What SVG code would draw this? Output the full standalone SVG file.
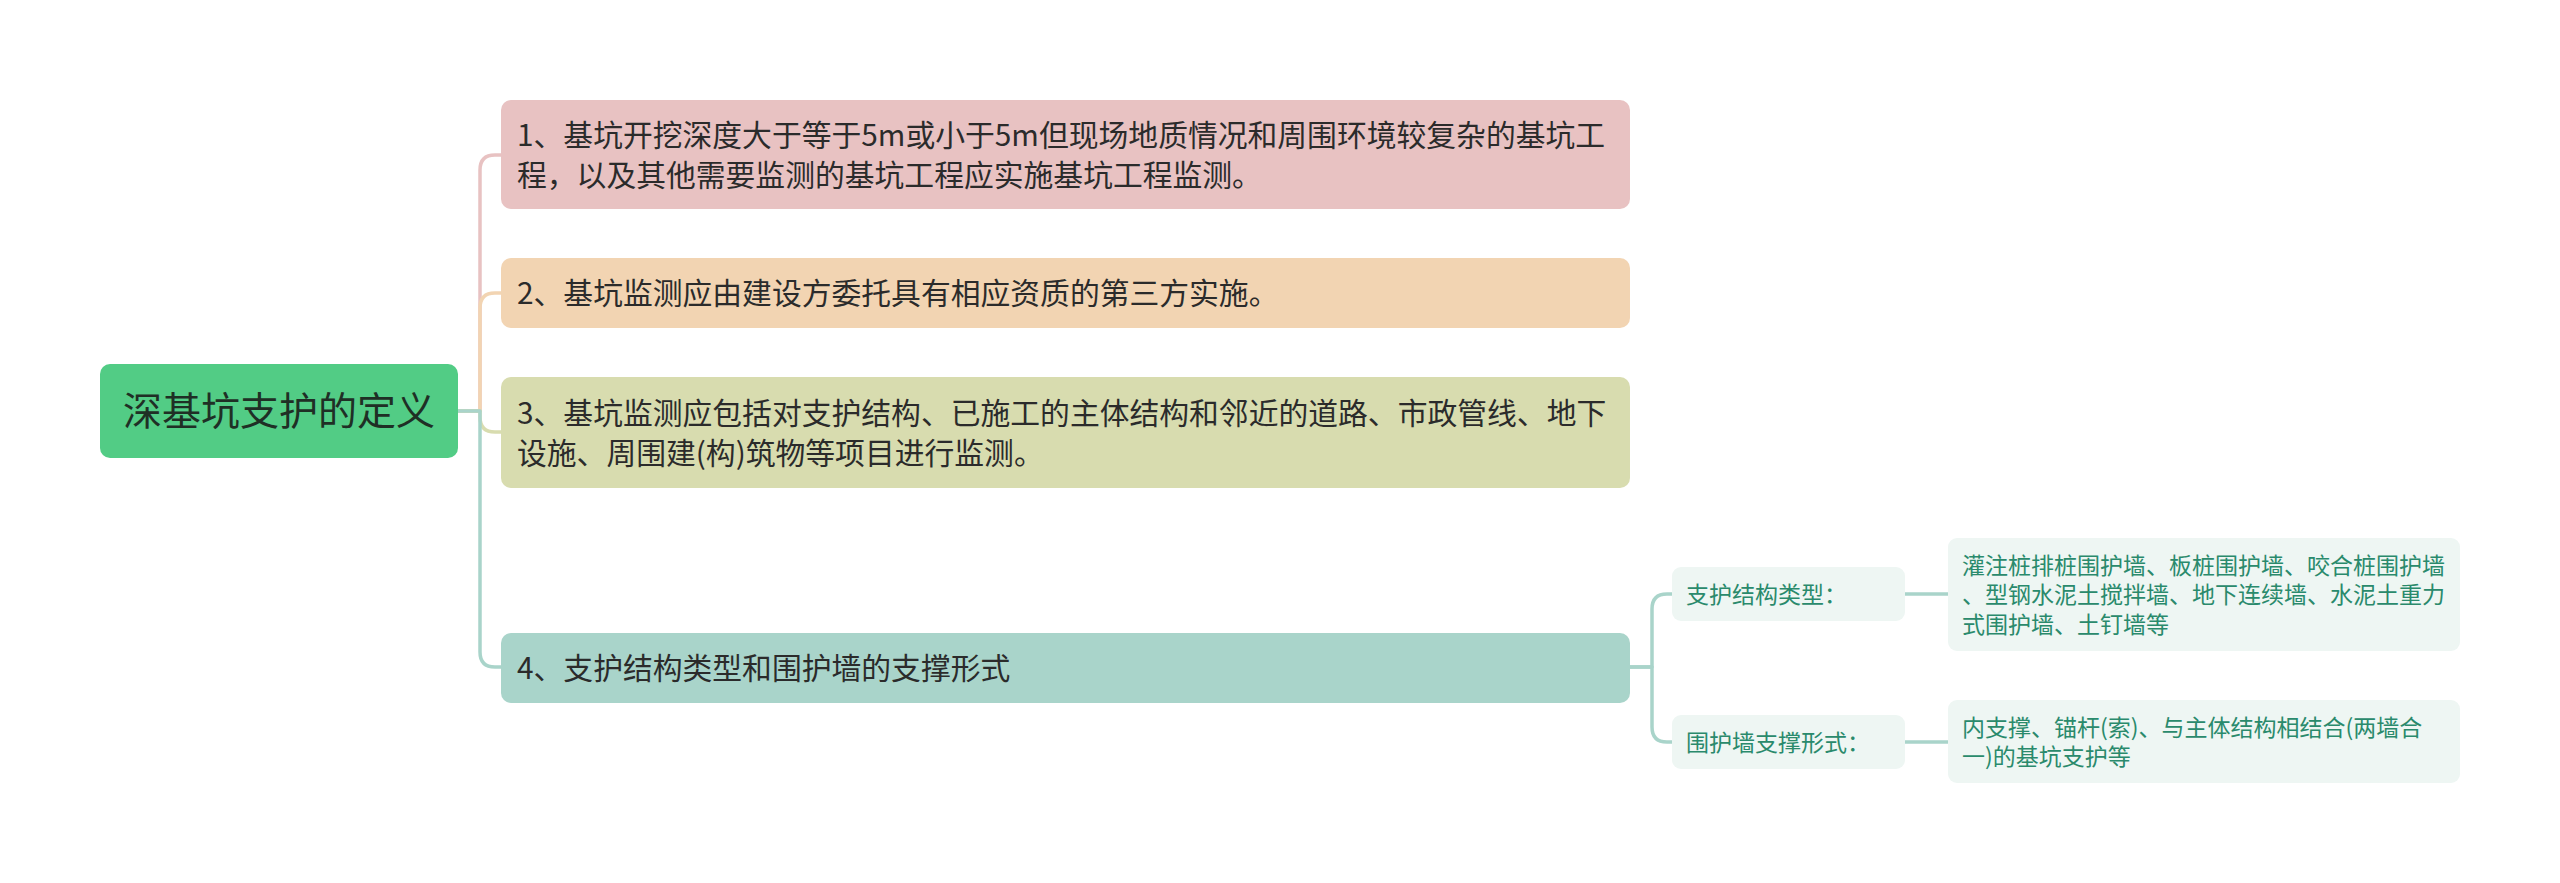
<svg xmlns="http://www.w3.org/2000/svg" width="2560" height="883" viewBox="0 0 2560 883">
<style>
.t{font-family:"Noto Sans CJK SC","Noto Sans",sans-serif;}
.root{font-size:39px;fill:#1f2f25;}
.main{font-size:29.8px;fill:#2b2b2b;}
.sub{font-size:23px;fill:#2a8a6c;}
.c{fill:none;stroke-width:3.5;stroke-linecap:round;stroke-linejoin:round;}
.lt{fill:#eef6f3;}
</style>
<rect width="2560" height="883" fill="#ffffff"/>
<g id="connectors">
<path class="c" stroke="#e8c2c2" d="M458,411 H480 V170 Q480,155 495,155 H501"/>
<path class="c" stroke="#f2d4b2" d="M458,411 H480 V308 Q480,293 495,293 H501"/>
<path class="c" stroke="#d8dcaf" d="M458,411 H480 V417 Q480,432 495,432 H501"/>
<path class="c" stroke="#a9d4ca" d="M458,411 H480 V652 Q480,667 495,667 H501"/>
<path class="c" stroke="#a9d4ca" d="M1630,667 H1652 V609 Q1652,594 1667,594 H1672"/>
<path class="c" stroke="#a9d4ca" d="M1630,667 H1652 V727 Q1652,742 1667,742 H1672"/>
<path class="c" stroke="#a9d4ca" d="M1905,594 H1948"/>
<path class="c" stroke="#a9d4ca" d="M1905,742 H1948"/>
</g>
<g id="root">
<rect x="100" y="364" width="358" height="94" rx="10" fill="#52cc85"/>
<text class="t root" x="279" y="425" text-anchor="middle">深基坑支护的定义</text>
</g>
<g id="n1">
<rect x="501" y="100" width="1129" height="109" rx="10" fill="#e8c2c2"/>
<text class="t main" x="517" y="145.5">1、基坑开挖深度大于等于5m或小于5m但现场地质情况和周围环境较复杂的基坑工</text>
<text class="t main" x="517" y="185.5">程，以及其他需要监测的基坑工程应实施基坑工程监测。</text>
</g>
<g id="n2">
<rect x="501" y="258" width="1129" height="70" rx="10" fill="#f2d4b2"/>
<text class="t main" x="517" y="304">2、基坑监测应由建设方委托具有相应资质的第三方实施。</text>
</g>
<g id="n3">
<rect x="501" y="377" width="1129" height="111" rx="10" fill="#d8dcaf"/>
<text class="t main" x="517" y="423.5">3、基坑监测应包括对支护结构、已施工的主体结构和邻近的道路、市政管线、地下</text>
<text class="t main" x="517" y="463.5">设施、周围建(构)筑物等项目进行监测。</text>
</g>
<g id="n4">
<rect x="501" y="633" width="1129" height="70" rx="10" fill="#a9d4ca"/>
<text class="t main" x="517" y="678.5">4、支护结构类型和围护墙的支撑形式</text>
</g>
<g id="s1">
<rect class="lt" x="1672" y="567" width="233" height="54" rx="9"/>
<text class="t sub" x="1686" y="602.5">支护结构类型：</text>
</g>
<g id="s2">
<rect class="lt" x="1672" y="715" width="233" height="54" rx="9"/>
<text class="t sub" x="1686" y="750.5">围护墙支撑形式：</text>
</g>
<g id="l1">
<rect class="lt" x="1948" y="538" width="512" height="113" rx="9"/>
<text class="t sub" x="1962" y="573.5">灌注桩排桩围护墙、板桩围护墙、咬合桩围护墙</text>
<text class="t sub" x="1962" y="603">、型钢水泥土搅拌墙、地下连续墙、水泥土重力</text>
<text class="t sub" x="1962" y="632.5">式围护墙、土钉墙等</text>
</g>
<g id="l2">
<rect class="lt" x="1948" y="700" width="512" height="83" rx="9"/>
<text class="t sub" x="1962" y="735.5">内支撑、锚杆(索)、与主体结构相结合(两墙合</text>
<text class="t sub" x="1962" y="765">一)的基坑支护等</text>
</g>
</svg>
